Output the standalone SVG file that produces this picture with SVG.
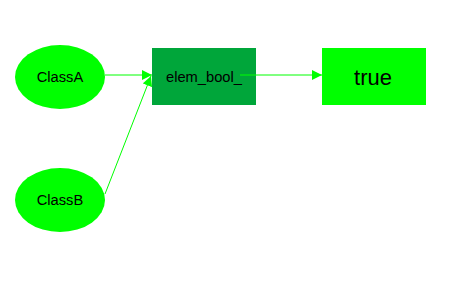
<svg xmlns="http://www.w3.org/2000/svg" width="450" height="300" viewBox="0 0 450 300">
<style>
text{font-family:"Liberation Sans",Arial,sans-serif;fill:#000;text-anchor:middle;dominant-baseline:central}
.e{stroke:#00ff00;stroke-width:1;fill:none}
</style>
<defs>
<marker id="ar" viewBox="0 0 10 10" refX="10" refY="5" markerWidth="10" markerHeight="10" markerUnits="userSpaceOnUse" orient="auto">
<path d="M0,0L10,5L0,10z" fill="#00ff00"/>
</marker>
</defs>
<rect width="450" height="300" fill="#fff"/>
<g id="ClassA"><ellipse cx="60" cy="77" rx="45" ry="32" fill="#00ff00"/><text x="60" y="77" font-size="14.7">ClassA</text></g>
<g id="ClassB"><ellipse cx="60" cy="200" rx="45" ry="32" fill="#00ff00"/><text x="60" y="200" font-size="14.7">ClassB</text></g>
<g id="elem_bool_"><rect x="152" y="48" width="104" height="57" fill="#00a63a"/><text x="204" y="77" font-size="14.7">elem_bool_</text></g>
<g id="true"><rect x="322" y="48" width="104" height="57" fill="#00ff00"/><text x="373" y="77" font-size="22">true</text></g>
<g id="edges">
<line class="e" x1="105" y1="75" x2="152" y2="75" marker-end="url(#ar)"/>
<line class="e" x1="105" y1="194" x2="151" y2="76" marker-end="url(#ar)"/>
<line class="e" x1="240" y1="75" x2="322" y2="75" marker-end="url(#ar)"/>
</g>
</svg>
